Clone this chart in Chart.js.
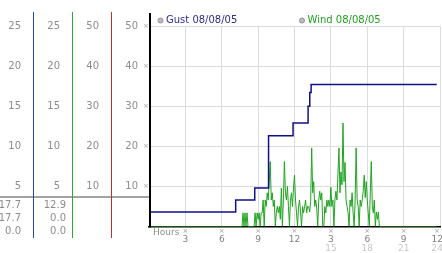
<!DOCTYPE html>
<html>
<head>
<meta charset="utf-8">
<script src="https://cdn.jsdelivr.net/npm/chart.js@4.4.0/dist/chart.umd.min.js"></script>
<style>
  html, body { margin: 0; padding: 0; background: #fff; overflow: hidden; }
  #wrap { width: 442px; height: 253px; position: relative; }
</style>
</head>
<body>
<div id="wrap"><canvas id="chart"></canvas></div>
<script>
// series labels
const gustLabel = "Gust 08/08/05";
const windLabel = "Wind 08/08/05";

// gust: step line, hours / value
const gustHours = [0, 0.1, 7.15, 8.72, 9.86, 11.88, 13.12, 13.26, 13.37, 23.73];
const gustValues = [0, 1.8, 3.3, 4.8, 11.3, 12.9, 15.0, 16.7, 17.7, 17.7];

// wind: 5-minute samples starting at 07:30, calm before and after
const windStartHour = 7.5;
const windStepHours = 5 / 60;
const windEndHour = 23.73;
const windValues = [
  0, 0, 0, 1.7, 0, 1.7, 0, 1.7, 0, 0,
  0, 0, 0, 0, 0, 1.7, 0, 1.7, 0.9, 1.7,
  0, 1.7, 1.7, 3.3, 0, 3.3, 2.5, 4.2, 3.3, 5.6,
  8.1, 3.3, 4.2, 2.5, 3.3, 0, 1.7, 2.5, 1.7, 2.5,
  0.9, 4.8, 0, 3.3, 8.1, 4.2, 3.3, 5.0, 2.5, 0,
  3.3, 4.2, 2.5, 4.8, 6.4, 3.3, 1.7, 0, 2.5, 3.3,
  1.7, 0, 2.5, 1.7, 2.5, 3.3, 1.7, 2.5, 2.5, 1.8,
  3.1, 9.8, 4.2, 5.6, 2.5, 3.3, 2.3, 0, 3.3, 4.4,
  3.3, 4.2, 0, 0, 2.5, 1.7, 3.3, 2.5, 3.3, 2.5,
  4.9, 2.5, 3.3, 0, 3.3, 4.4, 3.3, 6.5, 9.8, 4.2,
  6.8, 5.2, 12.9, 5.6, 8.0, 3.3, 2.5, 1.7, 0, 3.3,
  2.5, 4.2, 1.7, 0, 3.3, 9.8, 3.3, 2.5, 0, 3.3,
  2.5, 3.3, 4.4, 6.4, 3.6, 5.6, 3.3, 1.7, 0, 4.2,
  8.1, 2.5, 1.7, 3.3, 0, 1.8, 0.9, 1.8, 0
];

// stats under the left columns (max, last, min)
const gustStats = ["17.7", "17.7", "0.0"];
const windStats = ["12.9", "0.0", "0.0"];

// tick settings
const hourStep = 3;
const gustTickStep = 5;
const mainTickStep = 10;

const FONT = "'DejaVu Sans', Verdana, sans-serif";
const tickGray = "#8c8c8c";

function pts(xs, ys) {
  return xs.map((x, i) => ({ x: x, y: ys[i] }));
}

function windPoints() {
  const out = [{ x: 0, y: 0 }];
  windValues.forEach((v, i) => out.push({ x: windStartHour + i * windStepHours, y: v }));
  out.push({ x: windEndHour, y: 0 });
  return out;
}

const hideZero = v => (v === 0 ? "" : v);
const noSidePad = sc => { sc.paddingLeft = 0; sc.paddingRight = 0; };
// last label sits at the right edge, pad it so it stays inside the canvas
const edgeLabel = (v, txt) => (v === 24 ? txt + "  " : txt);

const sidePanel = {
  id: "sidePanel",
  afterDraw(chart) {
    const ctx = chart.ctx;
    const s = chart.scales;
    const area = chart.chartArea;
    ctx.save();

    // separator above stats
    ctx.fillStyle = "#a2a2a2";
    ctx.fillRect(0, 196, area.left + 1, 2);

    // column lines
    const cols = [
      [s.gustAxis.right, "#2646b4"],
      [s.windAxis.right, "#2fa82f"],
      [s.extraAxis.right, "#c02e2e"]
    ];
    cols.forEach(c => {
      ctx.fillStyle = c[1];
      ctx.fillRect(Math.round(c[0]), 12, 1, 226);
    });
    ctx.fillStyle = "#000";
    ctx.fillRect(Math.round(s.y.right), 13, 2, area.bottom - 13 + 1);

    // stats
    ctx.font = "10px " + FONT;
    ctx.fillStyle = tickGray;
    ctx.textAlign = "right";
    ctx.textBaseline = "middle";
    gustStats.forEach((t, i) => ctx.fillText(t, s.gustAxis.right - 12, 205 + i * 13));
    windStats.forEach((t, i) => ctx.fillText(t, s.windAxis.right - 6, 205 + i * 13));

    // little tick markers
    ctx.font = "7px " + FONT;
    ctx.fillStyle = "#a0a0a0";
    ctx.textAlign = "center";
    s.y.ticks.forEach(t => {
      if (t.value === 0) return;
      ctx.fillText("\u00d7", s.y.right - 3, s.y.getPixelForValue(t.value));
    });
    s.x.ticks.forEach(t => {
      if (t.value === 0) return;
      const px = Math.min(s.x.getPixelForValue(t.value), area.right - 3);
      ctx.fillText("\u00d7", px, area.bottom + 4.5);
    });

    // axis caption
    ctx.font = "9px " + FONT;
    ctx.fillStyle = tickGray;
    ctx.textAlign = "left";
    ctx.fillText("Hours", area.left + 4, area.bottom + 6);

    // legend
    ctx.font = "10px " + FONT;
    chart.data.datasets.forEach((ds, i) => {
      const x0 = i === 0 ? 160.5 : 302;
      ctx.beginPath();
      ctx.arc(x0, 20.5, 2.6, 0, Math.PI * 2);
      ctx.fillStyle = "#b8b8c0";
      ctx.fill();
      ctx.strokeStyle = "#8a8a90";
      ctx.lineWidth = 0.8;
      ctx.stroke();
      ctx.fillStyle = ds.legendColor;
      ctx.fillText(ds.label, x0 + 5.5, 20.5);
    });
    ctx.restore();
  }
};

new Chart(document.getElementById("chart"), {
  type: "line",
  data: {
    datasets: [
      {
        label: gustLabel,
        data: pts(gustHours, gustValues),
        yAxisID: "gustAxis",
        borderColor: "#10108a",
        borderWidth: 1.5,
        stepped: true,
        pointRadius: 0,
        fill: false,
        legendColor: "#2c2c90",
        order: 0
      },
      {
        label: windLabel,
        data: windPoints(),
        yAxisID: "windAxis",
        borderColor: "#22a422",
        borderWidth: 1,
        tension: 0,
        pointRadius: 0,
        fill: false,
        legendColor: "#1f9e1f",
        order: 1
      }
    ]
  },
  options: {
    responsive: true,
    maintainAspectRatio: false,
    animation: false,
    layout: { padding: { top: 26, right: 2, bottom: 0.5, left: 0 } },
    plugins: { legend: { display: false }, tooltip: { enabled: false } },
    scales: {
      x: {
        type: "linear", position: "bottom", min: 0, max: 24, weight: 0,
        afterFit: sc => { sc.height = 16; noSidePad(sc); },
        ticks: {
          stepSize: hourStep, autoSkip: false, maxRotation: 0, padding: 8,
          color: "#808080", font: { family: FONT, size: 9 },
          callback: v => (v === 0 ? "" : edgeLabel(v, String(v > 12 ? v - 12 : v)))
        },
        grid: {
          drawTicks: false,
          color: c => (c.tick && c.tick.value === 0 ? "rgba(0,0,0,0)" : "#dcdcdc")
        },
        border: { color: "#000", width: 1.5 }
      },
      x2: {
        type: "linear", position: "bottom", min: 0, max: 24, weight: 1,
        afterFit: sc => { sc.height = 10; noSidePad(sc); },
        ticks: {
          stepSize: hourStep, autoSkip: false, maxRotation: 0, padding: 1,
          color: "#c8c8c8", font: { family: FONT, size: 9 },
          callback: v => (v > 12 ? edgeLabel(v, String(v)) : "")
        },
        grid: { display: false, drawTicks: false },
        border: { display: false }
      },
      gustAxis: {
        type: "linear", position: "left", min: 0, max: 25, weight: 4,
        afterFit: sc => { sc.width = 33; },
        ticks: { stepSize: gustTickStep, padding: 12, color: tickGray, font: { family: FONT, size: 10 }, callback: hideZero },
        grid: { display: false, drawTicks: false },
        border: { display: false }
      },
      windAxis: {
        type: "linear", position: "left", min: 0, max: 25, weight: 3,
        afterFit: sc => { sc.width = 39; },
        ticks: { stepSize: gustTickStep, padding: 12, color: tickGray, font: { family: FONT, size: 10 }, callback: hideZero },
        grid: { display: false, drawTicks: false },
        border: { display: false }
      },
      extraAxis: {
        type: "linear", position: "left", min: 0, max: 50, weight: 2,
        afterFit: sc => { sc.width = 39; },
        ticks: { stepSize: mainTickStep, padding: 12, color: tickGray, font: { family: FONT, size: 10 }, callback: hideZero },
        grid: { display: false, drawTicks: false },
        border: { display: false }
      },
      y: {
        type: "linear", position: "left", min: 0, max: 50, weight: 1,
        afterFit: sc => { sc.width = 38; },
        ticks: { stepSize: mainTickStep, padding: 11, color: tickGray, font: { family: FONT, size: 10 }, callback: hideZero },
        grid: {
          drawTicks: false,
          color: c => (c.tick && c.tick.value === 0 ? "rgba(0,0,0,0)" : "#dcdcdc")
        },
        border: { display: false }
      }
    }
  },
  plugins: [sidePanel]
});
</script>
</body>
</html>
